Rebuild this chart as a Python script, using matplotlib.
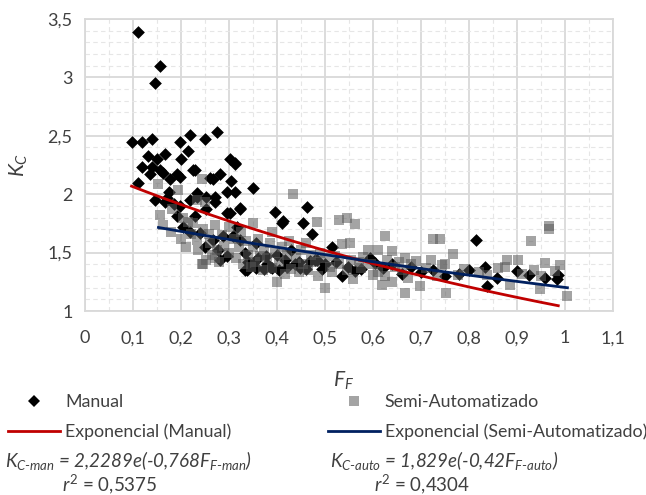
import numpy as np
import matplotlib.pyplot as plt
from matplotlib.lines import Line2D

plt.rcParams['font.family'] = ['Lato', 'DejaVu Sans']
plt.rcParams['mathtext.fontset'] = 'custom'
plt.rcParams['mathtext.rm'] = 'Lato'
plt.rcParams['mathtext.it'] = 'Lato:italic'

# Manual (F_F, K_C)
manual_x = [0.110, 0.156, 0.146,
            0.097, 0.118, 0.139, 0.198, 0.219, 0.250, 0.276,
            0.132, 0.149, 0.167, 0.201, 0.215, 0.302, 0.312,
            0.118, 0.139, 0.156, 0.163, 0.191, 0.226, 0.281, 0.267,
            0.111, 0.177, 0.198, 0.260, 0.305, 0.135, 0.229, 0.3125,
            0.233, 0.219, 0.253, 0.170, 0.295, 0.312, 0.351, 0.271, 0.174,
            0.323, 0.302, 0.396, 0.462, 0.410, 0.455, 0.472, 0.413,
            0.146, 0.167, 0.198, 0.191, 0.229, 0.205, 0.219, 0.233, 0.253,
            0.271, 0.295, 0.323, 0.316, 0.288, 0.323, 0.357, 0.333, 0.351,
            0.389, 0.337, 0.378, 0.240, 0.267, 0.278, 0.295, 0.281,
            0.360, 0.380, 0.400, 0.420, 0.430, 0.445, 0.460, 0.480, 0.500,
            0.514, 0.535, 0.5625, 0.594, 0.620, 0.640, 0.660, 0.680, 0.700,
            0.726, 0.750, 0.780, 0.800, 0.815, 0.833, 0.837, 0.858, 0.900,
            0.924, 0.958, 0.986, 0.983, 0.385, 0.448, 0.357, 0.417, 0.483,
            0.308, 0.333, 0.250, 0.185, 0.340, 0.372, 0.405, 0.438, 0.468,
            0.493, 0.522, 0.548, 0.575, 0.605]
manual_y = [3.39, 3.10, 2.95,
            2.45, 2.45, 2.47, 2.45, 2.51, 2.47, 2.53,
            2.33, 2.30, 2.34, 2.30, 2.37, 2.30, 2.26,
            2.23, 2.23, 2.21, 2.18, 2.17, 2.21, 2.17, 2.13,
            2.10, 2.13, 2.15, 2.14, 2.11, 2.17, 2.21, 2.27,
            2.01, 1.95, 1.98, 1.97, 2.02, 2.02, 2.05, 1.98, 2.02,
            1.88, 1.84, 1.85, 1.89, 1.75, 1.75, 1.66, 1.77,
            1.95, 1.93, 1.90, 1.81, 1.81, 1.72, 1.68, 1.98, 1.87,
            1.93, 1.84, 1.87, 1.72, 1.64, 1.61, 1.58, 1.50, 1.41,
            1.37, 1.35, 1.47, 1.67, 1.61, 1.52, 1.47, 1.44,
            1.45, 1.40, 1.48, 1.38, 1.52, 1.42, 1.36, 1.44, 1.40,
            1.55, 1.30, 1.34, 1.45, 1.37, 1.40, 1.32, 1.38, 1.33,
            1.35, 1.30, 1.32, 1.35, 1.61, 1.38, 1.21, 1.28, 1.34,
            1.31, 1.28, 1.31, 1.27, 1.38, 1.37, 1.37, 1.44, 1.44,
            1.64, 1.35, 1.55, 1.92, 1.42, 1.36, 1.35, 1.40, 1.43,
            1.36, 1.42, 1.38, 1.36, 1.41]

# Semi-Automatizado (F_F, K_C)
semi_x = [0.153, 0.194, 0.243, 0.233, 0.250, 0.156, 0.163, 0.181, 0.205, 0.215,
          0.226, 0.233, 0.246, 0.258, 0.274, 0.246, 0.253, 0.243, 0.260, 0.270,
          0.285, 0.290, 0.300, 0.310, 0.320, 0.325, 0.335, 0.340, 0.350, 0.360,
          0.370, 0.372, 0.380, 0.385, 0.395, 0.400, 0.405, 0.410, 0.417, 0.420,
          0.425, 0.434, 0.440, 0.450, 0.455, 0.460, 0.470, 0.479, 0.483, 0.490,
          0.500, 0.500, 0.510, 0.520, 0.535, 0.545, 0.552, 0.5625, 0.559, 0.570,
          0.580, 0.590, 0.600, 0.611, 0.618, 0.625, 0.630, 0.639, 0.645, 0.655,
          0.667, 0.667, 0.673, 0.680, 0.698, 0.710, 0.726, 0.740, 0.733, 0.743,
          0.753, 0.766, 0.778, 0.837, 0.875, 0.880, 0.885, 0.903, 0.929, 0.935,
          0.947, 0.958, 0.967, 0.967, 0.980, 0.990, 1.005,
          0.200, 0.210, 0.220, 0.235, 0.265, 0.280, 0.300, 0.315, 0.330, 0.345,
          0.355, 0.365, 0.390, 0.430, 0.445, 0.465, 0.485, 0.515, 0.530, 0.545,
          0.555, 0.575, 0.595, 0.610, 0.625, 0.640, 0.660, 0.690, 0.720, 0.750,
          0.790, 0.820, 0.860, 0.910, 0.950, 0.390, 0.350, 0.530, 0.180, 0.270]
semi_y = [2.09, 2.04, 2.13, 1.95, 1.93, 1.82, 1.74, 1.87, 1.80, 1.76,
          1.75, 1.61, 1.70, 1.66, 1.52, 1.40, 1.44, 1.40, 1.58, 1.74,
          1.65, 1.56, 1.72, 1.62, 1.55, 1.68, 1.60, 1.48, 1.55, 1.62,
          1.35, 1.52, 1.45, 1.58, 1.50, 1.25, 1.42, 1.55, 1.32, 1.48,
          1.60, 2.00, 1.45, 1.52, 1.40, 1.58, 1.48, 1.42, 1.76, 1.50,
          1.195, 1.45, 1.38, 1.47, 1.57, 1.80, 1.58, 1.745, 1.27, 1.42,
          1.46, 1.52, 1.31, 1.52, 1.22, 1.645, 1.44, 1.51, 1.38, 1.42,
          1.45, 1.15, 1.28, 1.40, 1.21, 1.37, 1.62, 1.62, 1.30, 1.395,
          1.15, 1.49, 1.31, 1.31, 1.38, 1.44, 1.22, 1.44, 1.60, 1.35,
          1.19, 1.41, 1.70, 1.73, 1.34, 1.39, 1.13,
          1.62, 1.55, 1.66, 1.52, 1.48, 1.42, 1.50, 1.45, 1.40, 1.38,
          1.42, 1.47, 1.37, 1.36, 1.33, 1.35, 1.30, 1.33, 1.40, 1.35,
          1.44, 1.37, 1.40, 1.33, 1.30, 1.25, 1.35, 1.43, 1.44, 1.40,
          1.36, 1.33, 1.37, 1.32, 1.30, 1.68, 1.75, 1.78, 1.68, 1.45]

# trend line coefficients (Excel exponential fit)
fit_man = (2.2289, -0.768)
fit_auto = (1.829, -0.42)

x_ticks = [0, 0.1, 0.2, 0.3, 0.4, 0.5, 0.6, 0.7, 0.8, 0.9, 1.0, 1.1]
x_labels = ['0', '0,1', '0,2', '0,3', '0,4', '0,5', '0,6', '0,7', '0,8', '0,9', '1', '1,1']
y_ticks = [1, 1.5, 2, 2.5, 3, 3.5]
y_labels = ['1', '1,5', '2', '2,5', '3', '3,5']

txt = '#404040'
red = '#C00000'
navy = '#002060'
sq_col = '#595959'
fs = 12.8

fig = plt.figure(figsize=(6.46, 4.95), dpi=100)
ax = fig.add_axes([85 / 646, 1 - 311 / 495, 528 / 646, 292 / 495])

ax.scatter(manual_x, manual_y, marker='D', s=42, c='black', linewidths=0, zorder=3)
ax.scatter(semi_x, semi_y, marker='s', s=62, c=sq_col, alpha=0.55, linewidths=0, zorder=4)

xm = np.linspace(min(manual_x), max(manual_x), 100)
ax.plot(xm, fit_man[0] * np.exp(fit_man[1] * xm), color=red, lw=2.0, zorder=5)
xa = np.linspace(min(semi_x), max(semi_x), 100)
ax.plot(xa, fit_auto[0] * np.exp(fit_auto[1] * xa), color=navy, lw=2.0, zorder=6)

ax.set_xlim(0, 1.1)
ax.set_ylim(1, 3.5)
ax.set_xticks(x_ticks)
ax.set_xticklabels(x_labels)
ax.set_yticks(y_ticks)
ax.set_yticklabels(y_labels)
ax.set_xticks(np.arange(0.05, 1.1, 0.1), minor=True)
ax.set_yticks(np.arange(1.1, 3.5, 0.1), minor=True)
ax.tick_params(which='both', length=0)
ax.tick_params(axis='x', pad=14, labelsize=13, labelcolor=txt)
ax.tick_params(axis='y', pad=9, labelsize=13, labelcolor=txt)

ax.grid(which='major', color='#D9D9D9', lw=1.3)
ax.grid(which='minor', color='#E6E6E6', lw=0.8, ls=(0, (4, 3)))
ax.set_axisbelow(True)
for s in ax.spines.values():
    s.set_color('#D9D9D9')
    s.set_linewidth(1.3)

ax.set_xlabel('$F_F$', fontsize=15, color=txt)
ax.xaxis.set_label_coords(0.49, -0.20)
ax.set_ylabel('$K_C$', fontsize=15, color=txt)
ax.yaxis.set_label_coords(-0.105, 0.5)

leg_kw = dict(loc='upper left', frameon=False, fontsize=fs, borderpad=0, borderaxespad=0,
              handlelength=2.95, handletextpad=0.25, labelspacing=0.75)
h_left = [Line2D([], [], ls='none', marker='D', ms=6.5, color='black', mew=0),
          Line2D([], [], color=red, lw=2.0)]
h_right = [Line2D([], [], ls='none', marker='s', ms=7.9, color=sq_col, alpha=0.55, mew=0),
           Line2D([], [], color=navy, lw=2.0)]
leg1 = fig.legend(h_left, ['Manual', 'Exponencial (Manual)'],
                  bbox_to_anchor=(8 / 646, 1 - 394 / 495), **leg_kw)
leg2 = fig.legend(h_right, ['Semi-Automatizado', 'Exponencial (Semi-Automatizado)'],
                  bbox_to_anchor=(328 / 646, 1 - 394 / 495), **leg_kw)
for lg in (leg1, leg2):
    for t in lg.get_texts():
        t.set_color(txt)

fig.text(5 / 646, 1 - 461 / 495, r'$K_{C\text{-}man}$ = 2,2289e(-0,768$F_{F\text{-}man}$)',
         fontsize=13.5, style='italic', color=txt, va='center', ha='left')
fig.text(110 / 646, 1 - 484 / 495, r'$r^2$ = 0,5375', fontsize=13.5, color=txt, va='center', ha='center')
fig.text(330 / 646, 1 - 461 / 495, r'$K_{C\text{-}auto}$ = 1,829e(-0,42$F_{F\text{-}auto}$)',
         fontsize=13.5, style='italic', color=txt, va='center', ha='left')
fig.text(422 / 646, 1 - 484 / 495, r'$r^2$ = 0,4304', fontsize=13.5, color=txt, va='center', ha='center')

fig.savefig('out.png', dpi=100)
